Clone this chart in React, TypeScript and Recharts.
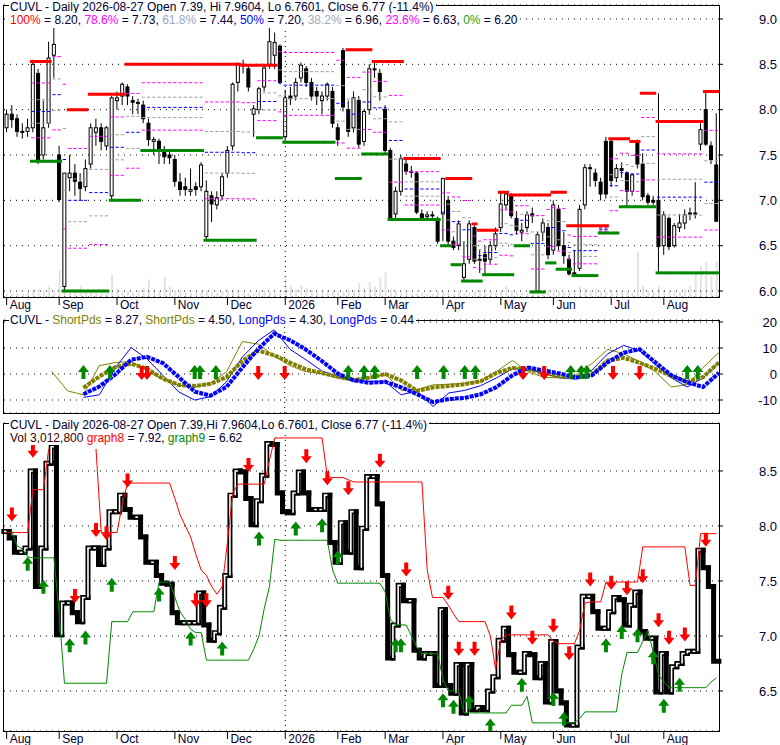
import React from "react";
import { ComposedChart, Bar, Line, XAxis, YAxis, CartesianGrid, ReferenceLine } from "recharts";

const FONT = "'Liberation Sans', Arial, sans-serif";
const INK = "#000033";

// ---------- price data (every other trading day, Aug 2025 - Aug 2026) ----------
const opens = [7.80,7.95,7.90,7.75,7.76,7.80,8.40,7.50,7.85,8.60,
7.50,6.05,7.25,7.30,7.20,7.15,7.40,7.75,7.80,7.60,
7.05,8.10,8.15,8.25,8.10,8.08,8.05,7.85,7.65,7.65,
7.55,7.50,7.45,7.20,7.15,7.10,7.15,7.15,6.60,7.05,
6.95,7.05,7.30,7.60,8.30,8.50,8.45,7.95,8.00,8.25,
8.50,8.60,8.70,7.70,8.15,8.15,8.35,8.45,8.30,8.20,
8.10,8.15,8.20,7.80,8.65,8.00,7.80,8.10,7.65,8.00,
8.45,8.40,8.00,7.55,6.85,7.10,7.40,7.32,7.30,6.85,
6.82,6.84,6.80,6.85,7.00,6.55,6.50,6.15,6.35,6.70,
6.35,6.40,6.35,6.50,6.70,6.95,7.05,6.80,6.65,6.70,
6.85,6.00,6.65,6.70,6.45,6.90,6.50,6.35,6.20,6.25,
6.95,7.35,7.30,7.20,7.65,7.65,7.25,7.35,7.30,7.10,
7.65,7.40,7.05,7.00,7.00,6.50,6.80,6.50,6.70,6.75,
6.85,6.86,7.62,8.00,7.60,7.39];
const highs = [8.00,8.05,7.95,7.85,7.90,8.55,8.45,8.10,8.75,8.90,
7.60,7.30,7.50,7.40,7.30,7.45,7.85,7.90,7.85,7.82,
8.15,8.20,8.30,8.28,8.15,8.12,8.10,7.90,7.70,7.68,
7.60,7.55,7.50,7.30,7.25,7.35,7.20,7.42,7.22,7.10,
7.10,7.30,7.60,8.30,8.52,8.55,8.48,8.05,8.25,8.48,
8.90,8.85,8.72,8.22,8.25,8.35,8.52,8.48,8.35,8.25,
8.20,8.30,8.25,7.85,8.68,8.10,8.20,8.15,8.00,8.50,
8.53,8.45,8.05,7.58,7.15,7.50,7.45,7.38,7.32,6.90,
6.88,6.88,6.82,7.25,7.05,6.60,6.78,6.55,6.78,6.72,
6.45,6.50,6.55,6.70,7.10,7.10,7.08,6.88,6.75,6.88,
6.92,6.65,6.80,6.75,7.00,6.95,6.65,6.40,6.45,6.95,
7.40,7.40,7.35,7.25,7.70,7.68,7.40,7.42,7.32,7.30,
7.67,7.52,7.08,7.05,8.18,6.88,6.82,6.75,6.85,6.90,
6.92,7.20,7.85,8.20,7.65,7.96];
const lows = [7.75,7.80,7.70,7.68,7.70,7.75,7.40,7.45,7.80,8.35,
6.98,6.00,7.10,7.05,7.00,7.10,7.35,7.60,7.55,7.55,
7.00,8.00,8.05,8.05,7.95,7.95,7.85,7.60,7.50,7.40,
7.40,7.40,7.15,7.05,7.05,7.05,7.05,7.10,6.56,6.76,
6.90,7.00,7.25,7.55,8.20,8.40,8.20,7.70,7.95,8.20,
8.45,8.45,8.28,7.63,8.05,8.10,8.30,8.25,8.10,8.05,
7.95,8.10,7.80,7.60,7.98,7.70,7.75,7.58,7.60,7.95,
8.35,8.10,7.50,6.78,6.80,7.05,7.28,7.25,6.85,6.78,
6.78,6.80,6.52,6.55,6.50,6.45,6.45,6.11,6.30,6.30,
6.20,6.18,6.30,6.45,6.65,6.90,6.80,6.62,6.55,6.65,
6.75,5.98,6.55,6.35,6.40,6.45,6.30,6.17,6.17,6.22,
6.90,7.15,7.15,7.00,7.02,7.15,7.20,7.25,6.92,7.05,
7.35,7.00,6.95,6.95,6.20,6.40,6.45,6.48,6.65,6.68,
6.78,6.80,7.55,7.60,7.40,6.76];
const closes = [7.95,7.89,7.76,7.76,7.80,8.50,7.45,7.80,8.57,8.72,
7.01,7.30,7.30,7.21,7.13,7.35,7.80,7.80,7.65,7.80,
8.13,8.13,8.28,8.15,8.08,8.08,7.90,7.67,7.67,7.55,
7.48,7.47,7.21,7.12,7.12,7.12,7.12,7.39,7.10,6.96,
7.03,7.26,7.55,8.28,8.50,8.49,8.25,8.01,8.23,8.46,
8.75,8.74,8.30,8.13,8.12,8.30,8.49,8.30,8.15,8.15,
8.15,8.28,7.85,7.67,8.03,7.76,8.13,7.62,7.98,8.45,
8.45,8.20,7.55,6.80,7.10,7.46,7.32,7.32,6.87,6.80,
6.84,6.84,6.55,7.24,6.55,6.48,6.74,6.30,6.74,6.33,
6.35,6.33,6.50,6.63,6.96,7.07,6.83,6.67,6.67,6.84,
6.83,6.62,6.75,6.40,6.95,6.50,6.39,6.19,6.19,6.90,
7.36,7.36,7.22,7.07,7.07,7.22,7.35,7.33,7.10,7.28,
7.40,7.04,6.98,6.98,6.49,6.84,6.49,6.72,6.75,6.84,
6.86,6.86,7.78,7.62,7.45,6.77];
// volume in thousands of shares
const volumes = [250,300,350,280,400,650,700,500,850,600,
2300,900,500,650,1000,450,500,400,350,600,
1900,700,450,500,400,600,800,1500,700,550,
1700,900,600,700,400,350,450,500,600,400,
350,500,550,600,450,400,350,300,500,550,
450,400,600,1500,1000,700,1000,800,600,500,
450,600,550,400,500,700,600,1200,800,1300,
900,1700,2100,700,500,400,450,350,300,400,
350,300,450,500,400,300,450,350,400,500,
650,700,450,400,500,900,600,450,400,350,
450,500,400,650,700,500,400,450,550,850,
750,600,700,500,450,600,550,500,450,400,
3800,1000,500,450,900,600,500,550,450,700,
1000,2200,2600,3000,1800,3013];

// Fibonacci window high / low runs: [startIndex, endIndex, level, drawn]
const fibHighRuns: number[][] = [
  [5,8,8.53,1],[9,11,8.90,0],[12,15,8.00,1],[16,22,8.17,1],[23,44,8.50,1],[45,51,8.49,1],
  [52,64,8.90,0],[65,69,8.66,1],[70,75,8.53,1],[76,82,7.46,1],[83,83,7.24,0],[84,88,7.24,1],
  [89,89,6.74,1],[90,93,6.67,1],[94,95,7.09,1],[96,103,7.06,1],[104,106,7.09,1],[107,114,6.72,1],
  [115,118,7.68,1],[119,120,7.65,1],[121,123,8.18,1],[124,132,7.87,1],[133,135,8.20,1],
];
const fibLowRuns: number[][] = [
  [5,10,7.43],[11,19,6.00],[20,25,7.00],[26,37,7.55],[38,47,6.56],[48,52,7.69],[53,62,7.64],
  [63,67,7.24],[68,72,7.51],[73,82,6.79],[83,84,6.50],[85,86,6.29],[87,90,6.11],[91,96,6.18],
  [97,99,6.50],[100,102,5.99],[103,104,6.31],[105,107,6.24],[108,112,6.17],[113,116,6.64],
  [117,120,6.93],[121,123,6.93],[124,124,6.20],[125,135,6.20],
];
const fibRatios = [0.786, 0.618, 0.5, 0.382, 0.236];
const fibColors = ["#ff00ff", "#a0a0a0", "#0000ff", "#a0a0a0", "#ff00ff"];

// ---------- oscillator panel (sampled every 3rd point) ----------
const shortFast = [null,null,null,1.0,-6.5,-8,3.2,4.4,4.8,1.2,-2,-4.3,-5,-3.5,0.8,12.5,11.5,7,3.2,0.9,0.2,-1.6,-2.3,-1.6,0,-6.3,-6,-4.2,-3.9,-3.6,-2.8,1,5.2,0.8,-1.3,-1.5,-0.4,4,9.5,7.8,4.8,0.8,-5,-4,2.5,8.27];
const shortSlow = [null,null,null,null,null,-5.3,-1,2.6,4,2,-1.8,-4.2,-4.6,-3.8,-1.2,5,9,7.2,4.4,1.8,0.4,-1,-2.3,-1.4,0,-2.5,-6.5,-5.2,-4.6,-3.9,-2.8,0.4,2.3,1.8,0.4,-0.9,-1.2,-0.2,5.2,6.2,4.3,2,-0.8,-3,-1.2,4.5];
const longFast = [null,null,null,null,null,-9,-8,2.3,10.2,5.8,-0.5,-6.9,-10,-8.7,-3,6.5,12.8,17,9.5,5.5,1.2,-1,-2.7,-2.8,-3,-8,-6.5,-12.5,-7.3,-6.3,-4.5,-1.5,2,1.8,0.2,-1.5,-2,1.5,7.8,11,9,3.5,-1.5,-5,-1.5,4.3];
const longSlow = [null,null,null,null,null,-7.8,-4.8,-0.2,5.5,6.6,4.2,-1.2,-6.8,-8.3,-5,2.5,9.6,15.5,13,9.4,5,0.2,-2.4,-3.4,-3,-5.1,-7.8,-10.8,-9.6,-9.2,-7.8,-5.0,-0.5,2.5,1.3,0.2,-1.4,-0.5,4.5,8.2,9.5,4.5,-0.5,-3.2,-5,0.44];
const MID_STEP = 3;
const midUpIdx = [15,20,36,37,40,65,68,70,78,83,87,89,107,109,110,129,131];
const midDownIdx = [26,27,48,53,98,102,115,120];
const MID_UP_TIP = 3.5;
const MID_DOWN_TIP = -2.3;

// ---------- lower panel ----------
const graph8 = [7.94,7.94,7.94,7.94,7.94,8.33,8.33,8.33,8.70,null,
null,null,null,null,null,null,null,8.70,7.94,7.94,
7.94,7.94,8.20,8.39,8.39,8.39,8.39,8.39,8.39,8.39,
8.39,8.39,8.25,8.10,8.00,7.90,7.74,7.60,7.55,7.45,
7.38,7.45,7.85,8.30,8.38,8.38,8.38,8.38,8.38,8.38,
8.60,8.80,8.80,8.80,8.80,8.80,8.80,8.80,8.80,8.80,
8.80,8.45,8.44,8.44,8.44,8.42,8.40,8.40,8.40,8.40,
8.40,8.40,8.40,8.40,8.40,8.40,8.40,8.40,8.40,8.40,
7.60,7.35,7.35,7.35,7.28,7.20,7.13,7.13,7.13,7.13,
7.13,7.13,7.00,6.70,6.96,7.01,7.01,7.01,7.01,7.01,
7.01,7.01,7.01,7.01,6.95,6.93,6.93,6.93,6.93,7.05,
7.30,7.31,7.31,7.31,7.49,7.49,7.49,7.49,7.49,7.49,
7.49,7.81,7.81,7.81,7.81,7.81,7.81,7.81,7.81,7.81,
7.46,7.46,7.93,7.93,7.93,7.93];
const graph9 = [null,7.95,7.82,7.79,7.72,7.71,7.71,7.71,7.71,7.71,
7.20,6.57,6.57,6.57,6.57,6.57,6.57,6.57,6.57,6.57,
7.13,7.13,7.13,7.13,7.22,7.22,7.22,7.22,7.22,7.49,
7.49,7.49,7.35,7.22,7.15,7.06,7.03,7.03,6.78,6.78,
6.78,6.78,6.78,6.78,6.78,6.78,6.78,6.88,7.00,7.25,
7.45,7.88,7.87,7.87,7.87,7.87,7.87,7.87,7.87,7.87,
7.87,7.87,7.60,7.48,7.48,7.48,7.48,7.48,7.48,7.48,
7.48,7.48,7.40,7.15,7.10,7.10,7.10,7.00,6.90,6.84,
6.84,6.84,6.84,6.60,6.50,6.50,6.50,6.30,6.30,6.30,
6.30,6.30,6.30,6.30,6.30,6.30,6.37,6.37,6.37,6.45,
6.21,6.21,6.21,6.21,6.21,6.21,6.21,6.21,6.21,6.25,
6.31,6.31,6.31,6.31,6.31,6.31,6.31,6.65,6.85,6.85,
6.85,6.95,7.05,6.85,6.65,6.58,6.53,6.53,6.53,6.53,
6.53,6.53,6.53,6.53,6.58,6.62];
const sellArrows = [[1,8.04],[5,8.62],[13,7.30],[17,7.90],[19,7.87],[23,8.35],[32,7.60],[36,7.26],[38,7.26],[46,8.49],[57,8.57],[61,8.37],[65,8.28],[71,8.53],[76,7.54],[84,7.33],[86,6.82],[89,6.82],[96,7.15],[100,6.92],[104,7.03],[107,6.78],[111,7.45],[115,7.42],[118,7.37],[121,7.48],[124,7.08],[126,6.92],[129,6.95],[133,7.81]];
const buyArrows = [[4,7.72],[7,7.51],[12,6.98],[15,7.05],[20,7.53],[29,7.44],[35,7.04],[41,6.95],[48,7.95],[55,8.04],[60,8.07],[63,7.78],[74,6.98],[75,6.98],[83,6.48],[85,6.42],[88,6.46],[92,6.25],[98,6.62],[104,6.49],[106,6.31],[114,6.98],[117,7.10],[120,7.07],[123,6.87],[125,6.43],[128,6.62]];

const monthTicks = [0,10,21,32,42,53,63,72,83,94,104,115,125];
const monthLabels = ["Aug","Sep","Oct","Nov","Dec","2026","Feb","Mar","Apr","May","Jun","Jul","Aug"];
const YEAR_IDX = 53;

// ---------- derived tables ----------
const N = closes.length;
const PLOT_W = 715;
const BW = PLOT_W / N;

function fromRuns(runs: number[][], onlyDrawn: boolean): (number | null)[] {
  const a: (number | null)[] = new Array(N).fill(null);
  runs.forEach((r) => {
    for (let i = r[0]; i <= r[1]; i++) a[i] = onlyDrawn && r[3] === 0 ? null : r[2];
  });
  return a;
}
const fibHighAll = fromRuns(fibHighRuns, false);
const fibHighDrawn = fromRuns(fibHighRuns, true);
const fibLow = fromRuns(fibLowRuns, false);

const topData = closes.map((c, i) => {
  const row: any = { i, o: opens[i], h: highs[i], l: lows[i], c, hl: [lows[i], highs[i]], vol: volumes[i], red: fibHighDrawn[i], green: fibLow[i] };
  const hi = fibHighAll[i], lo = fibLow[i];
  fibRatios.forEach((r, k) => { row["f" + k] = hi != null && lo != null ? lo + r * (hi - lo) : null; });
  return row;
});

const midData = closes.map((_, i) => {
  const k = i % MID_STEP === 0 ? i / MID_STEP : -1;
  return {
    i,
    sf: k >= 0 ? shortFast[k] : null,
    ss: k >= 0 ? shortSlow[k] : null,
    lf: k >= 0 ? longFast[k] : null,
    ls: k >= 0 ? longSlow[k] : null,
    up: midUpIdx.includes(i) ? MID_UP_TIP : null,
    dn: midDownIdx.includes(i) ? MID_DOWN_TIP : null,
  };
});

const botData = closes.map((c, i) => {
  const pc = i > 0 ? closes[i - 1] : c;
  const s = sellArrows.find((a) => a[0] === i);
  const b = buyArrows.find((a) => a[0] === i);
  return { i, c, pc, rng: [Math.min(pc, c), Math.max(pc, c)], g8: graph8[i], g9: graph9[i], sell: s ? s[1] : null, buy: b ? b[1] : null };
});

// ---------- shapes ----------
const Candle = (p: any) => {
  const { x, y, width, height, payload } = p;
  const { o, h, l, c } = payload;
  const cx = x + width / 2;
  const ppu = h > l ? height / (h - l) : 0;
  const yo = y + (h - o) * ppu;
  const yc = y + (h - c) * ppu;
  const top = Math.min(yo, yc);
  const bh = Math.max(Math.abs(yo - yc), 1);
  const up = c >= o;
  return (
    <g>
      <line x1={cx} x2={cx} y1={y} y2={y + height} stroke="#000" strokeWidth={1} />
      <rect x={cx - 1.5} y={top} width={3} height={bh} fill={up ? "#fff" : "#000"} stroke="#000" strokeWidth={1} />
    </g>
  );
};

const StepShape = (p: any) => {
  const { x, y, width, height, payload } = p;
  const up = payload.c >= payload.pc;
  const left = x + width / 2 - BW / 2;
  const right = left + BW;
  const yc = up ? y : y + height;
  const yp = up ? y + height : y;
  const d = `M${left},${yp}V${yc}H${right}`;
  return (
    <g>
      <path d={d} fill="none" stroke="#000" strokeWidth={5} strokeLinecap="square" />
      {up ? <path d={d} fill="none" stroke="#fff" strokeWidth={1.6} /> : null}
    </g>
  );
};

const segDot = (color: string, w: number, half: number) => (p: any) => {
  const { cx, cy, index } = p;
  if (cy == null || !isFinite(cy)) return <g key={`s${index}`} />;
  return <line key={`s${index}`} x1={cx - half} x2={cx + half} y1={cy} y2={cy} stroke={color} strokeWidth={w} />;
};

const downArrow = (color: string) => (p: any) => {
  const { cx, cy, index } = p;
  if (cy == null || !isFinite(cy)) return <g key={`d${index}`} />;
  const d = `M${cx - 2},${cy - 14}L${cx + 2},${cy - 14}L${cx + 2},${cy - 7}L${cx + 5.5},${cy - 7}L${cx},${cy}L${cx - 5.5},${cy - 7}L${cx - 2},${cy - 7}Z`;
  return <path key={`d${index}`} d={d} fill={color} />;
};
const upArrow = (color: string) => (p: any) => {
  const { cx, cy, index } = p;
  if (cy == null || !isFinite(cy)) return <g key={`u${index}`} />;
  const d = `M${cx - 2},${cy + 14}L${cx + 2},${cy + 14}L${cx + 2},${cy + 7}L${cx + 5.5},${cy + 7}L${cx},${cy}L${cx - 5.5},${cy + 7}L${cx - 2},${cy + 7}Z`;
  return <path key={`u${index}`} d={d} fill={color} />;
};

const MonthTick = (props: any) => {
  const { x, y, payload } = props;
  const k = monthTicks.indexOf(payload.value);
  return (
    <g>
      <line x1={x} x2={x} y1={y + 1} y2={y + 8} stroke="#000" />
      <text x={x + 3} y={y + 12} fontSize={12} fontFamily={FONT} fill={INK}>{monthLabels[k]}</text>
    </g>
  );
};

const yTick = (fmt: (v: number) => string) => (props: any) => {
  const { x, y, payload } = props;
  return (
    <text x={x + 54} y={y} dy="0.36em" textAnchor="end" fontSize={13} fontFamily={FONT} fill={INK}>{fmt(payload.value)}</text>
  );
};

const noDotLine = { stroke: "none", activeDot: false as const, isAnimationActive: false, legendType: "none" as const };

const frame = (top: number, height: number): React.CSSProperties => ({
  position: "absolute", left: 3, top, width: 717, height, border: "1px solid #000", boxSizing: "border-box", pointerEvents: "none",
});
const label: React.CSSProperties = {
  position: "absolute", fontFamily: FONT, fontSize: 12, lineHeight: "14px", background: "#fff", whiteSpace: "nowrap", color: INK, padding: "0 2px 0 1px",
};

export default function App() {
  return (
    <div style={{ position: "absolute", left: 0, top: 0, width: 780, height: 745, background: "#fff", overflow: "hidden" }}>
      {/* volume underlay */}
      <div style={{ position: "absolute", left: 0, top: 0 }}>
        <ComposedChart width={780} height={315} data={topData} margin={{ top: 5, right: 6, bottom: 0, left: 4 }}>
          <XAxis dataKey="i" type="category" height={18} tick={false} axisLine={false} tickLine={false} />
          <YAxis orientation="right" width={55} domain={[0, 25000]} allowDataOverflow tick={false} axisLine={false} tickLine={false} />
          <Bar dataKey="vol" fill="#e2e2e2" barSize={2} isAnimationActive={false} />
        </ComposedChart>
      </div>

      {/* price panel */}
      <div style={{ position: "absolute", left: 0, top: 0 }}>
        <ComposedChart width={780} height={315} data={topData} margin={{ top: 5, right: 6, bottom: 0, left: 4 }}>
          <CartesianGrid vertical={false} stroke="#000" strokeDasharray="1 5" />
          <XAxis dataKey="i" type="category" height={18} ticks={monthTicks} interval={0} tick={MonthTick} axisLine={false} tickLine={false} tickSize={0} tickMargin={0} />
          <YAxis orientation="right" width={55} domain={[5.934, 9.154]} ticks={[6, 6.5, 7, 7.5, 8, 8.5, 9]} interval={0} allowDataOverflow
            tick={yTick((v) => v.toFixed(1))} axisLine={false} tickLine={{ stroke: "#000" }} tickSize={4} tickMargin={0} />
          <ReferenceLine x={YEAR_IDX} stroke="#000" strokeDasharray="1 4" />
          {fibRatios.map((r, k) => (
            <Line key={"f" + k} dataKey={"f" + k} {...noDotLine} dot={segDot(fibColors[k], 1, 1.6)} />
          ))}
          <Line dataKey="red" {...noDotLine} dot={segDot("#ff0000", 3, BW / 2 + 0.3)} />
          <Line dataKey="green" {...noDotLine} dot={segDot("#008800", 3, BW / 2 + 0.3)} />
          <Bar dataKey="hl" shape={Candle} isAnimationActive={false} />
        </ComposedChart>
      </div>

      {/* oscillator panel */}
      <div style={{ position: "absolute", left: 0, top: 313 }}>
        <ComposedChart width={780} height={100} data={midData} margin={{ top: 7, right: 6, bottom: 0, left: 4 }}>
          <CartesianGrid vertical={false} stroke="#000" strokeDasharray="1 5" />
          <XAxis dataKey="i" type="category" hide />
          <YAxis orientation="right" width={55} domain={[-15, 20.77]} ticks={[-10, 0, 10, 20]} interval={0} allowDataOverflow
            tick={yTick((v) => String(v))} axisLine={false} tickLine={{ stroke: "#000" }} tickSize={4} tickMargin={0} />
          <ReferenceLine x={YEAR_IDX} stroke="#000" strokeDasharray="1 4" />
          <Line dataKey="sf" type="linear" stroke="#808000" strokeWidth={1} dot={false} activeDot={false} connectNulls isAnimationActive={false} />
          <Line dataKey="lf" type="linear" stroke="#0000ff" strokeWidth={1} dot={false} activeDot={false} connectNulls isAnimationActive={false} />
          <Line dataKey="ss" type="linear" stroke="#808000" strokeWidth={4} strokeDasharray="4 1" dot={false} activeDot={false} connectNulls isAnimationActive={false} />
          <Line dataKey="ls" type="linear" stroke="#0000ff" strokeWidth={4} strokeDasharray="4 1" dot={false} activeDot={false} connectNulls isAnimationActive={false} />
          <Line dataKey="up" {...noDotLine} dot={upArrow("#008800")} />
          <Line dataKey="dn" {...noDotLine} dot={downArrow("#ff0000")} />
        </ComposedChart>
      </div>

      {/* lower panel */}
      <div style={{ position: "absolute", left: 0, top: 415 }}>
        <ComposedChart width={780} height={330} data={botData} barCategoryGap={0} margin={{ top: 8, right: 6, bottom: 0, left: 4 }}>
          <CartesianGrid vertical={false} stroke="#000" strokeDasharray="1 5" />
          <XAxis dataKey="i" type="category" height={14} ticks={monthTicks} interval={0} tick={MonthTick} axisLine={false} tickLine={false} tickSize={0} tickMargin={0} />
          <YAxis orientation="right" width={55} domain={[6.136, 8.936]} ticks={[6.5, 7, 7.5, 8, 8.5]} interval={0} allowDataOverflow
            tick={yTick((v) => v.toFixed(1))} axisLine={false} tickLine={{ stroke: "#000" }} tickSize={4} tickMargin={0} />
          <ReferenceLine x={YEAR_IDX} stroke="#000" strokeDasharray="1 4" />
          <Line dataKey="g8" type="linear" stroke="#ff0000" strokeWidth={1} dot={false} activeDot={false} isAnimationActive={false} />
          <Line dataKey="g9" type="linear" stroke="#008800" strokeWidth={1} dot={false} activeDot={false} isAnimationActive={false} />
          <Bar dataKey="rng" shape={StepShape} isAnimationActive={false} />
          <Line dataKey="sell" {...noDotLine} dot={downArrow("#ff0000")} />
          <Line dataKey="buy" {...noDotLine} dot={upArrow("#008800")} />
        </ComposedChart>
      </div>

      <div style={frame(5, 293)} />
      <div style={frame(320, 94)} />
      <div style={frame(423, 309)} />

      <div style={{ ...label, left: 9, top: 0 }}>CUVL - Daily 2026-08-27 Open 7.39, Hi 7.9604, Lo 6.7601, Close 6.77 (-11.4%)</div>
      <div style={{ ...label, left: 9, top: 13 }}>
        <span style={{ color: "#ff0000" }}>100%</span> = 8.20, <span style={{ color: "#ff00ff" }}>78.6%</span> = 7.73,{" "}
        <span style={{ color: "#99a8cc" }}>61.8%</span> = 7.44, <span style={{ color: "#0000ff" }}>50%</span> = 7.20,{" "}
        <span style={{ color: "#a8a8b8" }}>38.2%</span> = 6.96, <span style={{ color: "#ff00ff" }}>23.6%</span> = 6.63,{" "}
        <span style={{ color: "#20a020" }}>0%</span> = 6.20
      </div>
      <div style={{ ...label, left: 9, top: 313 }}>
        CUVL - <span style={{ color: "#808000" }}>ShortPds</span> = 8.27, <span style={{ color: "#808000" }}>ShortPds</span> = 4.50,{" "}
        <span style={{ color: "#0000ff" }}>LongPds</span> = 4.30, <span style={{ color: "#0000ff" }}>LongPds</span> = 0.44
      </div>
      <div style={{ ...label, left: 9, top: 418 }}>CUVL - Daily 2026-08-27 Open 7.39,Hi 7.9604,Lo 6.7601, Close 6.77 (-11.4%)</div>
      <div style={{ ...label, left: 9, top: 431 }}>
        <span style={{ color: "#400000" }}>Vol 3,012,800</span> <span style={{ color: "#ff0000" }}>graph8</span> = 7.92,{" "}
        <span style={{ color: "#008800" }}>graph9</span> = 6.62
      </div>
    </div>
  );
}
